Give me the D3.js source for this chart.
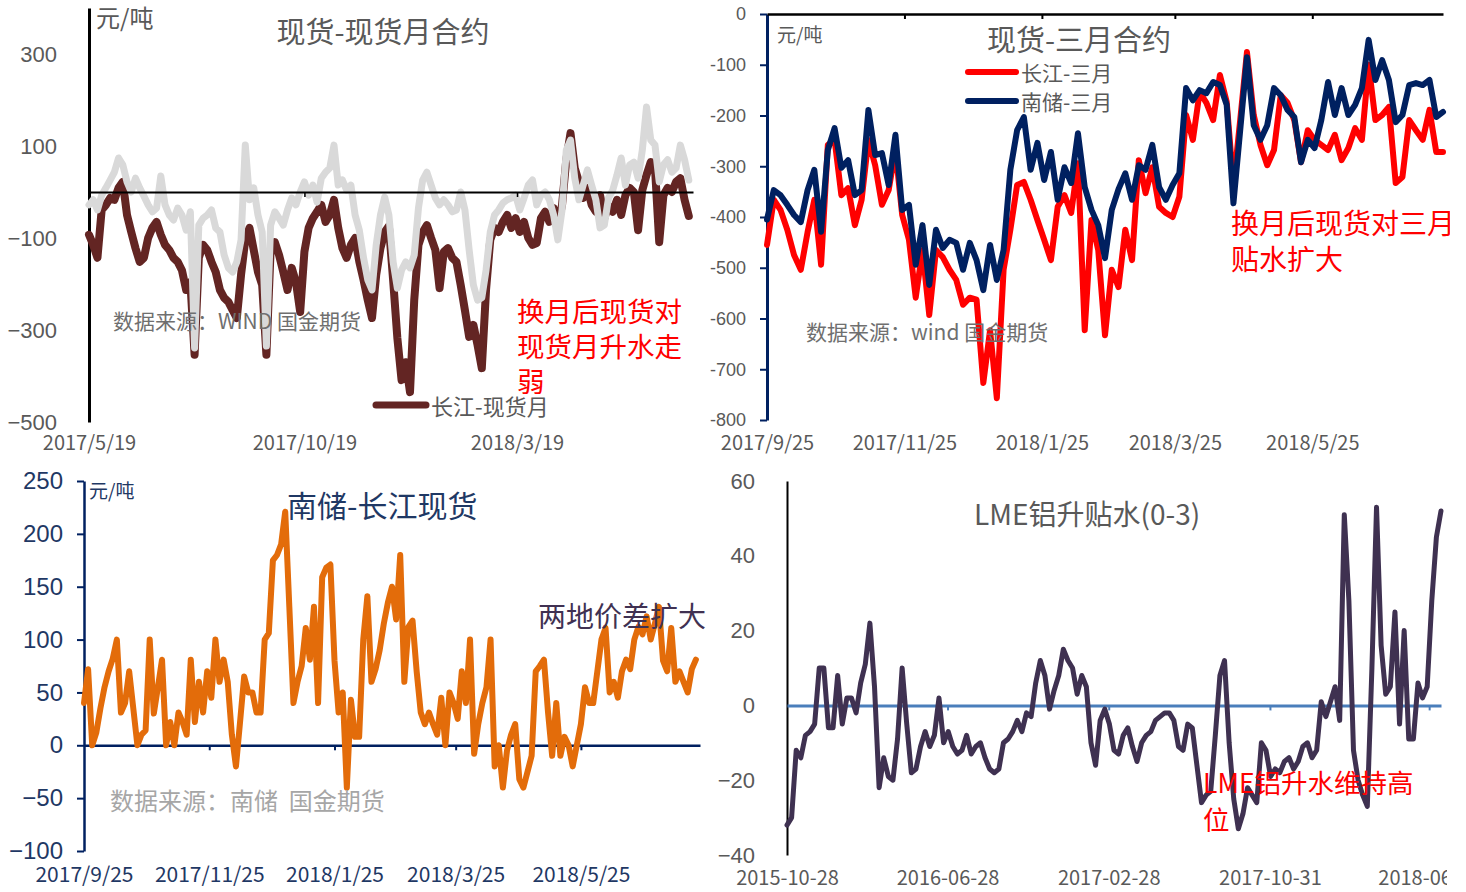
<!DOCTYPE html>
<html>
<head>
<meta charset="utf-8">
<script src="https://cdn.jsdelivr.net/npm/d3@7"></script>
<style>
  body { margin: 0; background: #fff; }
  svg { display: block; }
</style>
</head>
<body>
<svg id="chart" width="1466" height="892"></svg>
<script>
"use strict";

//Fonts
var CJK = "\"Noto Sans CJK SC\", \"Noto Sans\", sans-serif";
var NUM = "\"Liberation Sans\", Arial, sans-serif";

//---------- 现货-现货月合约 (top left), one point every 3 days ----------
var p1Start = "2017-05-19";
var p1Step = 3;
var p1Changjiang = [-93,-115,-143,-39,-28,-13,-17,9,22,-50,
  -87,-122,-152,-143,-100,-78,-65,-93,-115,-126,
  -143,-152,-170,-213,-196,-354,-143,-115,-126,-152,
  -174,-213,-230,-239,-257,-274,-180,-104,-78,-126,
  -174,-202,-354,-126,-109,-137,-174,-213,-165,-196,
  -261,-130,-78,-57,-43,-28,-65,-50,-17,-78,
  -122,-143,-115,-100,-152,-191,-235,-274,-180,-122,
  -87,-74,-191,-317,-409,-370,-435,-235,-115,-87,
  -72,-100,-126,-209,-130,-122,-143,-152,-202,-257,
  -315,-289,-333,-383,-213,-104,-78,-87,-65,-50,
  -78,-57,-87,-65,-100,-115,-111,-57,-43,-65,
  -35,-72,-28,70,128,52,22,-13,9,-28,
  -43,-7,-57,-30,-43,-17,-50,-7,9,0,
  -83,4,37,65,52,-109,-7,9,0,22,
  30,-17,-52];
var p1Nanchu = [-28,-17,-39,-7,9,26,43,74,59,22,
  0,30,9,-9,-28,-43,-35,35,-28,-50,
  -61,-35,-50,-83,-43,-339,-72,-57,-50,-39,
  -78,-87,-137,-165,-174,-152,-104,102,-17,9,
  -50,-87,-335,-72,-43,-57,-72,-39,-13,-28,
  0,22,-7,15,-22,30,43,52,102,15,
  26,4,15,-50,-83,-143,-191,-213,-115,-50,
  -11,-50,-152,-209,-170,-152,-165,-137,-35,26,
  43,15,-13,-28,-17,-28,-43,-39,0,-39,
  -126,-202,-235,-230,-170,-87,-50,-39,-24,-17,
  -13,-7,-39,-13,15,26,-28,-7,0,-17,
  -50,-104,-39,91,113,30,-17,15,48,15,
  -17,-78,-72,-13,4,37,74,15,59,65,
  30,91,185,113,102,22,59,70,43,52,
  102,70,26];
var p1YTicks = [300, 100, -100, -300, -500];
var p1XTicks = ["2017-05-19", "2017-10-19", "2018-03-19"];

//---------- 现货-三月合约 (top right), one point every 3 days ----------
var p2Start = "2017-09-25";
var p2Step = 3;
var p2Changjiang = [-455,-366,-386,-425,-475,-504,-430,-366,-494,-258,
  -248,-357,-343,-416,-366,-248,-298,-376,-347,-268,
  -396,-445,-559,-465,-593,-465,-479,-504,-524,-573,
  -559,-563,-727,-623,-757,-504,-425,-337,-331,-366,
  -406,-445,-485,-380,-357,-392,-294,-623,-406,-465,
  -633,-504,-538,-425,-485,-288,-353,-302,-380,-392,
  -400,-360,-199,-248,-154,-175,-209,-120,-173,-337,
  -209,-75,-199,-258,-298,-268,-160,-175,-209,-292,
  -229,-248,-258,-268,-238,-288,-264,-225,-248,-100,
  -209,-199,-183,-333,-321,-209,-229,-248,-189,-272,
  -272];
var p2Nanchu = [-405,-347,-357,-376,-396,-410,-347,-307,-429,-268,
  -225,-303,-288,-357,-347,-189,-278,-274,-337,-238,
  -386,-376,-494,-416,-534,-425,-461,-445,-451,-504,
  -451,-485,-544,-455,-524,-465,-307,-229,-203,-307,
  -254,-327,-272,-366,-302,-333,-235,-341,-386,-416,
  -481,-386,-345,-314,-366,-298,-307,-258,-341,-366,
  -337,-314,-146,-170,-150,-156,-134,-140,-179,-373,
  -229,-85,-219,-248,-219,-146,-160,-189,-203,-292,
  -248,-264,-209,-134,-199,-146,-199,-179,-146,-51,
  -130,-91,-130,-213,-199,-140,-136,-140,-130,-203,
  -193];
var p2YTicks = [0, -100, -200, -300, -400, -500, -600, -700, -800];
var p2XTicks = ["2017-09-25", "2017-11-25", "2018-01-25", "2018-03-25", "2018-05-25"];

//---------- 南储-长江现货 (bottom left), one point every 2 days ----------
var p3Start = "2017-09-25";
var p3Step = 2;
var p3Spread = [40,72,0,12,35,55,70,82,100,31,
  40,70,35,0,10,14,100,30,55,81,
  0,22,0,31,22,10,81,22,60,31,
  70,45,100,60,81,60,10,-20,22,65,
  50,50,31,31,100,106,175,180,190,221,
  131,40,60,75,111,81,131,40,159,168,
  171,80,31,50,-40,43,8,8,100,141,
  60,72,90,115,135,150,119,180,60,112,
  118,70,31,20,31,20,10,45,0,50,
  40,25,70,40,100,-8,20,40,55,100,
  -20,0,-40,-5,10,20,-32,-40,-25,-10,
  70,75,81,31,-10,40,-10,8,0,-20,
  0,20,55,40,40,70,100,111,50,60,
  45,70,81,72,100,112,105,122,100,115,
  131,80,70,111,60,70,60,50,72,81];
var p3YTicks = [250, 200, 150, 100, 50, 0, -50, -100];
var p3XTicks = ["2017-09-25", "2017-11-25", "2018-01-25", "2018-03-25", "2018-05-25"];

//---------- LME铝升贴水(0-3) (bottom right), one point every 7 days ----------
var p4Start = "2015-10-28";
var p4Step = 7;
var p4Lme = [-32,-30,-12,-14,-8,-7,-5,10,10,-6,
  -6,8,-5,2,2,-2,6,11,22,5,
  -22,-14,-19,-20,-9,10,-5,-18,-17,-11,
  -7,-11,-8,2,-10,-7,-11,-13,-12,-8,
  -13,-11,-10,-14,-17,-18,-17,-10,-9,-7,
  -4,-7,-2,-3,6,12,8,-1,4,8,
  15,12,10,3,8,5,-10,-16,-4,-1,
  -5,-12,-13,-8,-6,-11,-15,-10,-8,-7,
  -4,-3,-2,-2,-4,-11,-12,-5,-6,-16,
  -26,-24,-23,-8,8,12,-10,-25,-33,-29,
  -22,-24,-26,-10,-12,-19,-17,-18,-15,-14,
  -17,-15,-11,-10,-14,-12,1,-3,1,5,
  -4,51,28,-12,-20,-24,-27,10,53,16,
  3,5,25,-5,20,-9,-9,6,2,5,
  28,45,52];
var p4YTicks = [60, 40, 20, 0, -20, -40];
var p4XTicks = ["2015-10-28", "2016-06-28", "2017-02-28", "2017-10-31", "2018-06-30"];


var parseDate = d3.timeParse("%Y-%m-%d");
var svg = d3.select("#chart");

//Builds the date list for a series sampled every `step` days
function makeDates(start, step, n){
  var s = parseDate(start);
  return d3.range(n).map(function(i){ return d3.timeDay.offset(s, i * step); });
}

function drawLine(g, dates, values, x, y, color, width){
  var line = d3.line()
  .x(function(d, i) { return x(dates[i]); })
  .y(function(d) { return y(d); });

  g.append("path")
  .datum(values)
  .attr("fill", "none")
  .attr("stroke", color)
  .attr("stroke-width", width)
  .attr("stroke-linejoin", "round")
  .attr("stroke-linecap", "round")
  .attr("d", line);
}

function longMinus(d){ return d < 0 ? "\u2212" + Math.abs(d) : String(d); }

function textStyle(sel, size, color, family){
  sel.selectAll("text")
  .attr("font-size", size)
  .attr("fill", color)
  .attr("font-family", family);
}

function noDomain(sel){ sel.select(".domain").remove(); }

function addText(g, x, y, str, size, color, anchor){
  return g.append("text")
  .attr("x", x)
  .attr("y", y)
  .attr("dominant-baseline", "central")
  .attr("text-anchor", anchor || "start")
  .attr("font-family", CJK)
  .attr("font-size", size)
  .attr("fill", color)
  .style("white-space", "pre")
  .text(str);
}


//================ Panel 1 ================
(function(){
  var g = svg.append("g");
  var x = d3.scaleTime().domain([parseDate("2017-05-19"), parseDate("2018-07-22")]).range([89, 693]);
  var y = d3.scaleLinear().domain([-500, 400]).range([422, 8]);
  var dates = makeDates(p1Start, p1Step, p1Changjiang.length);
  var ticks = p1XTicks.map(parseDate);

  //y labels
  g.append("g")
  .attr("transform", "translate(60,0)")
  .call(d3.axisLeft(y).tickValues(p1YTicks).tickSize(0).tickPadding(3).tickFormat(longMinus))
  .call(noDomain)
  .call(textStyle, 22, "#595959", NUM);

  //vertical axis line
  g.append("g")
  .attr("transform", "translate(89,0)")
  .call(d3.axisLeft(y).tickValues([]).tickSizeOuter(0))
  .select(".domain").attr("stroke", "#000").attr("stroke-width", 3);

  //x labels
  g.append("g")
  .attr("transform", "translate(0,436)")
  .call(d3.axisBottom(x).tickValues(ticks).tickSize(0).tickPadding(0).tickFormat(d3.timeFormat("%Y/%-m/%-d")))
  .call(noDomain)
  .call(textStyle, 20, "#595959", CJK);

  drawLine(g, dates, p1Changjiang, x, y, "#632523", 8);
  drawLine(g, dates, p1Nanchu, x, y, "#d9d9d9", 7);

  //zero line
  var zero = g.append("g")
  .attr("transform", "translate(0," + y(0) + ")")
  .call(d3.axisBottom(x).tickValues(ticks.slice(1)).tickSize(5).tickSizeOuter(0).tickFormat(""));
  zero.select(".domain").attr("stroke", "#000").attr("stroke-width", 2);
  zero.selectAll(".tick line").attr("stroke", "#000").attr("stroke-width", 1.5);

  addText(g, 96, 16, "元/吨", 24, "#595959");
  addText(g, 383, 30, "现货-现货月合约", 29, "#595959", "middle");
  addText(g, 113, 320, "数据来源：WIND 国金期货", 21, "#6f6f6f");

  g.append("line").attr("x1", 376).attr("x2", 426).attr("y1", 405).attr("y2", 405)
  .attr("stroke", "#632523").attr("stroke-width", 7).attr("stroke-linecap", "round");
  addText(g, 431, 405, "长江-现货月", 22, "#595959");

  addText(g, 517, 310, "换月后现货对", 27.5, "#ff0000");
  addText(g, 517, 345, "现货月升水走", 27.5, "#ff0000");
  addText(g, 517, 380, "弱", 27.5, "#ff0000");
})();


//================ Panel 2 ================
(function(){
  var g = svg.append("g");
  var x = d3.scaleTime().domain([parseDate("2017-09-25"), parseDate("2018-07-22")]).range([767, 1443]);
  var y = d3.scaleLinear().domain([-800, 0]).range([420, 14]);
  var dates = makeDates(p2Start, p2Step, p2Changjiang.length);
  var ticks = p2XTicks.map(parseDate);

  var yAxis = g.append("g")
  .attr("transform", "translate(767,0)")
  .call(d3.axisLeft(y).tickValues(p2YTicks).tickSize(7).tickSizeOuter(0).tickPadding(14).tickFormat(function(d){ return String(d); }))
  .call(textStyle, 18, "#595959", NUM);
  yAxis.select(".domain").attr("stroke", "#002060").attr("stroke-width", 3);
  yAxis.selectAll(".tick line").attr("stroke", "#002060").attr("stroke-width", 2);

  g.append("g")
  .attr("transform", "translate(0,436)")
  .call(d3.axisBottom(x).tickValues(ticks).tickSize(0).tickPadding(0).tickFormat(d3.timeFormat("%Y/%-m/%-d")))
  .call(noDomain)
  .call(textStyle, 20, "#595959", CJK);

  drawLine(g, dates, p2Changjiang, x, y, "#ff0000", 6);
  drawLine(g, dates, p2Nanchu, x, y, "#002060", 6);

  //top axis line at 0
  var top = g.append("g")
  .attr("transform", "translate(0," + y(0) + ")")
  .call(d3.axisBottom(x).tickValues(ticks.slice(1)).tickSize(5).tickSizeOuter(0).tickFormat(""));
  top.select(".domain").attr("stroke", "#000").attr("stroke-width", 2.5);
  top.selectAll(".tick line").attr("stroke", "#000").attr("stroke-width", 2);

  addText(g, 777, 33, "元/吨", 19, "#595959");
  addText(g, 987, 38, "现货-三月合约", 29, "#595959");

  g.append("line").attr("x1", 968).attr("x2", 1016).attr("y1", 72).attr("y2", 72)
  .attr("stroke", "#ff0000").attr("stroke-width", 6).attr("stroke-linecap", "round");
  addText(g, 1021, 72, "长江-三月", 21, "#595959");
  g.append("line").attr("x1", 968).attr("x2", 1016).attr("y1", 101).attr("y2", 101)
  .attr("stroke", "#002060").attr("stroke-width", 6).attr("stroke-linecap", "round");
  addText(g, 1021, 101, "南储-三月", 21, "#595959");

  addText(g, 806, 331, "数据来源：wind 国金期货", 21, "#6f6f6f");

  //annotation runs past the panel edge like the original
  svg.append("clipPath").attr("id", "clip2").append("rect")
  .attr("x", 1100).attr("y", 190).attr("width", 350).attr("height", 100);
  var note = g.append("g").attr("clip-path", "url(#clip2)");
  addText(note, 1231, 222, "换月后现货对三月", 28, "#ff0000");
  addText(note, 1231, 258, "贴水扩大", 28, "#ff0000");
})();


//================ Panel 3 ================
(function(){
  var g = svg.append("g");
  var x = d3.scaleTime().domain([parseDate("2017-09-25"), parseDate("2018-07-22")]).range([84, 700]);
  var y = d3.scaleLinear().domain([-100, 250]).range([851, 481]);
  var dates = makeDates(p3Start, p3Step, p3Spread.length);
  var ticks = p3XTicks.map(parseDate);

  var yAxis = g.append("g")
  .attr("transform", "translate(84,0)")
  .call(d3.axisLeft(y).tickValues(p3YTicks).tickSize(7).tickSizeOuter(0).tickPadding(14).tickFormat(longMinus))
  .call(textStyle, 24, "#1f3864", NUM);
  yAxis.select(".domain").attr("stroke", "#002060").attr("stroke-width", 2.5);
  yAxis.selectAll(".tick line").attr("stroke", "#002060").attr("stroke-width", 2);

  g.append("g")
  .attr("transform", "translate(0,867)")
  .call(d3.axisBottom(x).tickValues(ticks).tickSize(0).tickPadding(0).tickFormat(d3.timeFormat("%Y/%-m/%-d")))
  .call(noDomain)
  .call(textStyle, 21, "#1f3864", CJK);

  var zero = g.append("g")
  .attr("transform", "translate(0," + y(0) + ")")
  .call(d3.axisBottom(x).tickValues(ticks.slice(1)).tickSize(5).tickSizeOuter(0).tickFormat(""));
  zero.select(".domain").attr("stroke", "#002060").attr("stroke-width", 2.5);
  zero.selectAll(".tick line").attr("stroke", "#002060").attr("stroke-width", 2);

  drawLine(g, dates, p3Spread, x, y, "#e36c0a", 6);

  addText(g, 89, 489, "元/吨", 19, "#1f3864");
  addText(g, 287, 504, "南储-长江现货", 30, "#1f3864");
  addText(g, 110, 799, "数据来源：南储  国金期货", 24, "#a6a6a6");
  addText(g, 538, 615, "两地价差扩大", 28, "#403152");
})();


//================ Panel 4 ================
(function(){
  var g = svg.append("g");
  var dates = makeDates(p4Start, p4Step, p4Lme.length);
  var x = d3.scaleTime().domain([parseDate(p4Start), dates[dates.length - 1]]).range([787, 1441]);
  var y = d3.scaleLinear().domain([-40, 60]).range([855, 481]);
  var ticks = p4XTicks.map(parseDate);

  g.append("g")
  .attr("transform", "translate(758,0)")
  .call(d3.axisLeft(y).tickValues(p4YTicks).tickSize(0).tickPadding(3).tickFormat(longMinus))
  .call(noDomain)
  .call(textStyle, 22, "#595959", NUM);

  g.append("g")
  .attr("transform", "translate(787,0)")
  .call(d3.axisLeft(y).tickValues([]).tickSizeOuter(0))
  .select(".domain").attr("stroke", "#000").attr("stroke-width", 2);

  //date labels, cut at the right edge like the original
  svg.append("clipPath").attr("id", "clip4").append("rect")
  .attr("x", 700).attr("y", 860).attr("width", 747).attr("height", 32);
  g.append("g")
  .attr("clip-path", "url(#clip4)")
  .append("g")
  .attr("transform", "translate(0,871)")
  .call(d3.axisBottom(x).tickValues(ticks).tickSize(0).tickPadding(0).tickFormat(d3.timeFormat("%Y-%m-%d")))
  .call(noDomain)
  .call(textStyle, 20, "#595959", CJK);

  var zero = g.append("g")
  .attr("transform", "translate(0," + y(0) + ")")
  .call(d3.axisBottom(x).tickValues(ticks.slice(1)).tickSize(5).tickSizeOuter(0).tickFormat(""));
  zero.select(".domain").attr("stroke", "#4a7ebb").attr("stroke-width", 3);
  zero.selectAll(".tick line").attr("stroke", "#4a7ebb").attr("stroke-width", 2);

  drawLine(g, dates, p4Lme, x, y, "#3f3151", 5);

  addText(g, 974, 513, "LME铝升贴水(0-3)", 28, "#595959");
  addText(g, 1203, 781, "LME铝升水维持高", 26.5, "#ff0000");
  addText(g, 1203, 818, "位", 26.5, "#ff0000");
})();
</script>
</body>
</html>
